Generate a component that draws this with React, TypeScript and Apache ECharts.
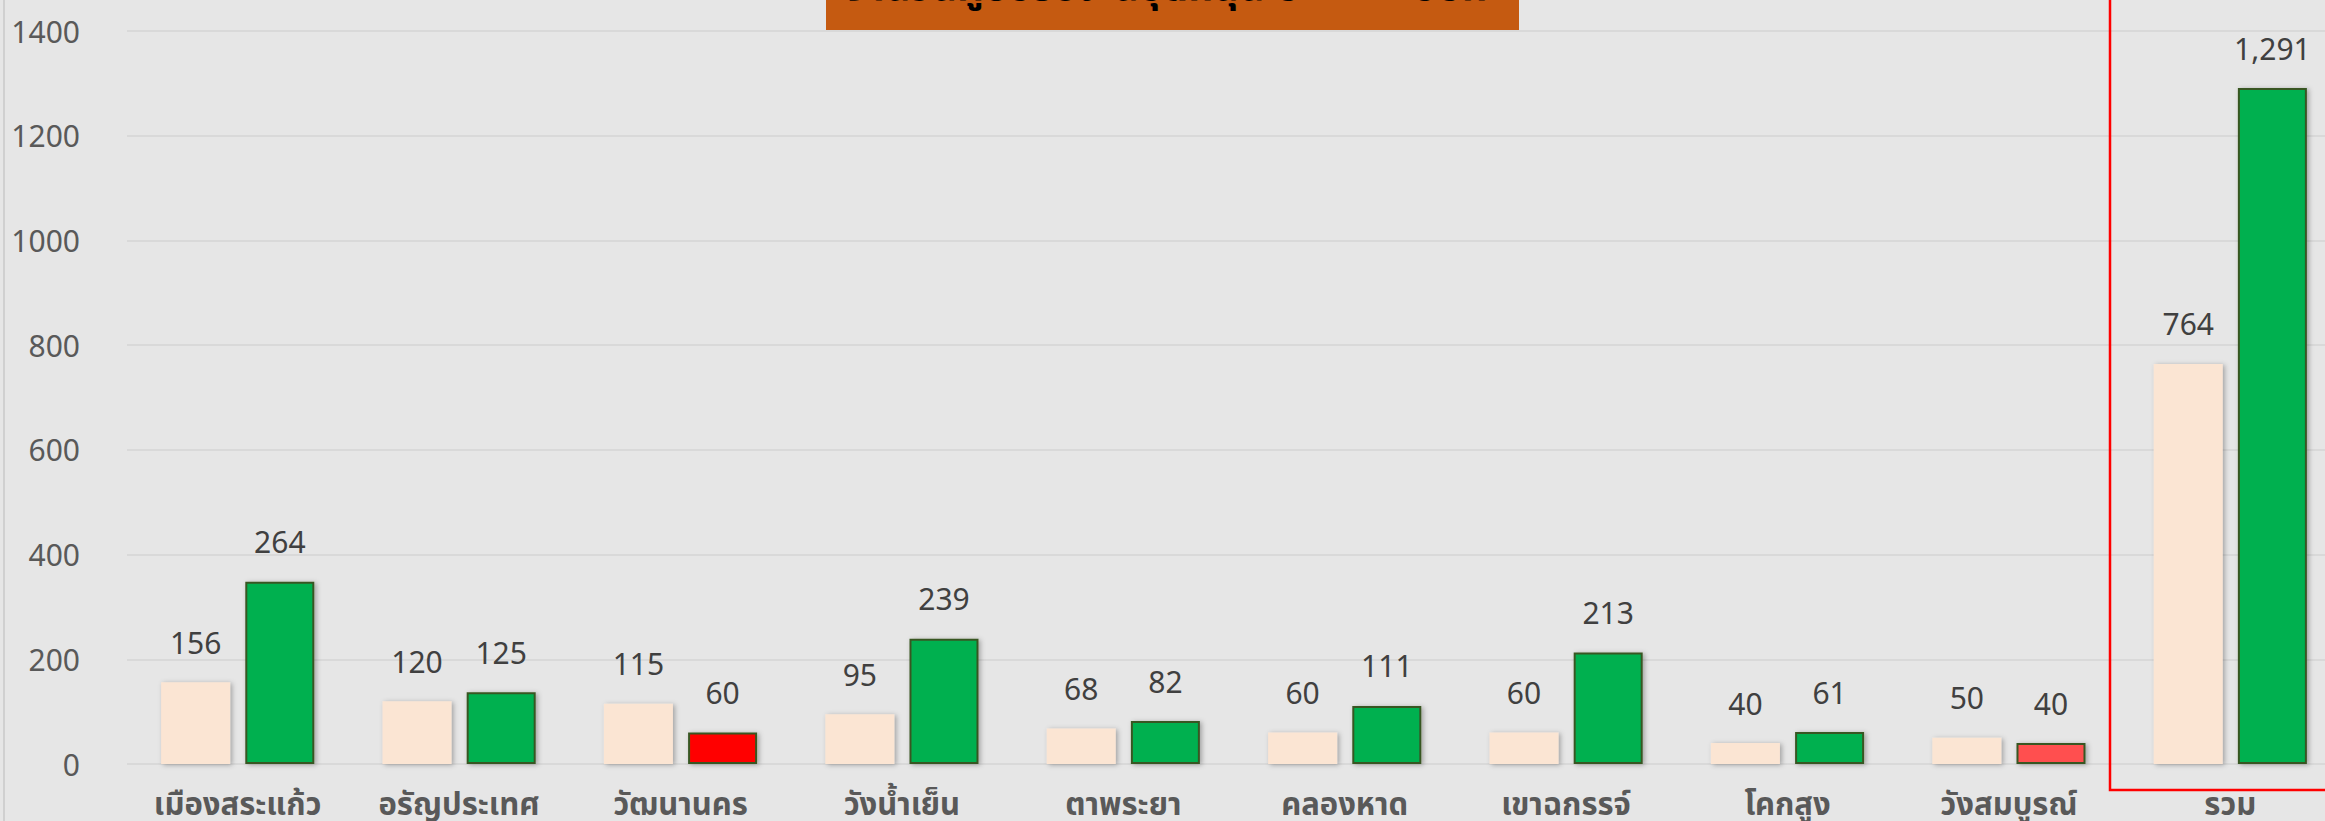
import React, { useEffect, useRef } from "react";
import * as echarts from "echarts";

const categories = [
  "เมืองสระแก้ว",
  "อรัญประเทศ",
  "วัฒนานคร",
  "วังน้ำเย็น",
  "ตาพระยา",
  "คลองหาด",
  "เขาฉกรรจ์",
  "โคกสูง",
  "วังสมบูรณ์",
  "รวม",
];
const targetValues = [156, 120, 115, 95, 68, 60, 60, 40, 50, 764];
const actualValues = [348, 137, 60, 239, 82, 111, 213, 61, 40, 1291];
const actualLabels = ["264", "125", "60", "239", "82", "111", "213", "61", "40", "1,291"];
const actualColors = [
  "#00B050", "#00B050", "#FF0000", "#00B050", "#00B050",
  "#00B050", "#00B050", "#00B050", "#FF5050", "#00B050",
];
const yTicks = { min: 0, max: 1400, interval: 200 };
const titleText = "จำนวนผู้ขอรับเงินอุดหนุน ปี 2566 อปท.";

const THAI_FONT = "'Noto Sans Thai', 'Noto Sans', 'DejaVu Sans', sans-serif";
const NUM_FONT = "'Noto Sans', 'Open Sans', sans-serif";

export default function App() {
  const ref = useRef<HTMLDivElement>(null);
  useEffect(() => {
    if (!ref.current) return;
    const chart = echarts.init(ref.current, undefined, { renderer: "svg" });
    const shadow = {
      shadowBlur: 5,
      shadowColor: "rgba(0,0,0,0.3)",
      shadowOffsetX: 2,
      shadowOffsetY: 1,
    };
    chart.setOption({
      animation: false,
      backgroundColor: "#E6E6E6",
      grid: { left: 127, top: 31, width: 2214, height: 736, containLabel: false },
      xAxis: {
        type: "category",
        data: categories,
        axisTick: { show: false },
        axisLine: { show: false },
        axisLabel: {
          interval: 0,
          margin: 26,
          fontSize: 31,
          fontWeight: "bold",
          color: "#595959",
          fontFamily: THAI_FONT,
        },
      },
      yAxis: {
        type: "value",
        min: yTicks.min,
        max: yTicks.max,
        interval: yTicks.interval,
        axisLine: { show: false },
        axisTick: { show: false },
        splitLine: { lineStyle: { color: "#D9D9D9", width: 2 } },
        axisLabel: {
          margin: 47,
          fontSize: 30,
          color: "#595959",
          fontFamily: NUM_FONT,
          formatter: (v: number) => String(v),
        },
      },
      series: [
        {
          type: "bar",
          name: "เป้าหมาย",
          data: targetValues,
          barWidth: 69,
          barGap: "22%",
          itemStyle: { color: "#FBE5D3", ...shadow },
          label: {
            show: true,
            position: "top",
            distance: 25,
            fontSize: 30,
            color: "#404040",
            fontFamily: NUM_FONT,
          },
        },
        {
          type: "bar",
          name: "ผลงาน",
          data: actualValues.map((v, i) => ({
            value: v,
            itemStyle: { color: actualColors[i] },
          })),
          barWidth: 69,
          barGap: "22%",
          itemStyle: { borderColor: "#385723", borderWidth: 2, ...shadow },
          label: {
            show: true,
            position: "top",
            distance: 25,
            fontSize: 30,
            color: "#404040",
            fontFamily: NUM_FONT,
            formatter: (p: any) => actualLabels[p.dataIndex],
          },
        },
      ],
      graphic: [
        {
          type: "line",
          shape: { x1: 4, y1: 0, x2: 4, y2: 821 },
          style: { stroke: "#D0D0D0", lineWidth: 2 },
          z: 10,
        },
        {
          type: "rect",
          shape: { x: 826, y: -60, width: 693, height: 90 },
          style: { fill: "#C55A11" },
          z: 10,
        },
        {
          type: "text",
          x: 1172,
          y: 8,
          style: {
            text: titleText,
            fill: "#000000",
            font: `bold 40px ${THAI_FONT}`,
            textAlign: "center",
            textVerticalAlign: "bottom",
          },
          z: 11,
        },
        {
          type: "rect",
          shape: { x: 2110, y: -10, width: 300, height: 800 },
          style: { fill: "none", stroke: "#FF0000", lineWidth: 2.5 },
          z: 10,
        },
      ],
    });
    return () => chart.dispose();
  }, []);
  return (
    <div
      style={{
        position: "fixed",
        left: 0,
        top: 0,
        width: 2325,
        height: 821,
        overflow: "hidden",
      }}
    >
      <div ref={ref} style={{ width: 2345, height: 821 }} />
    </div>
  );
}
